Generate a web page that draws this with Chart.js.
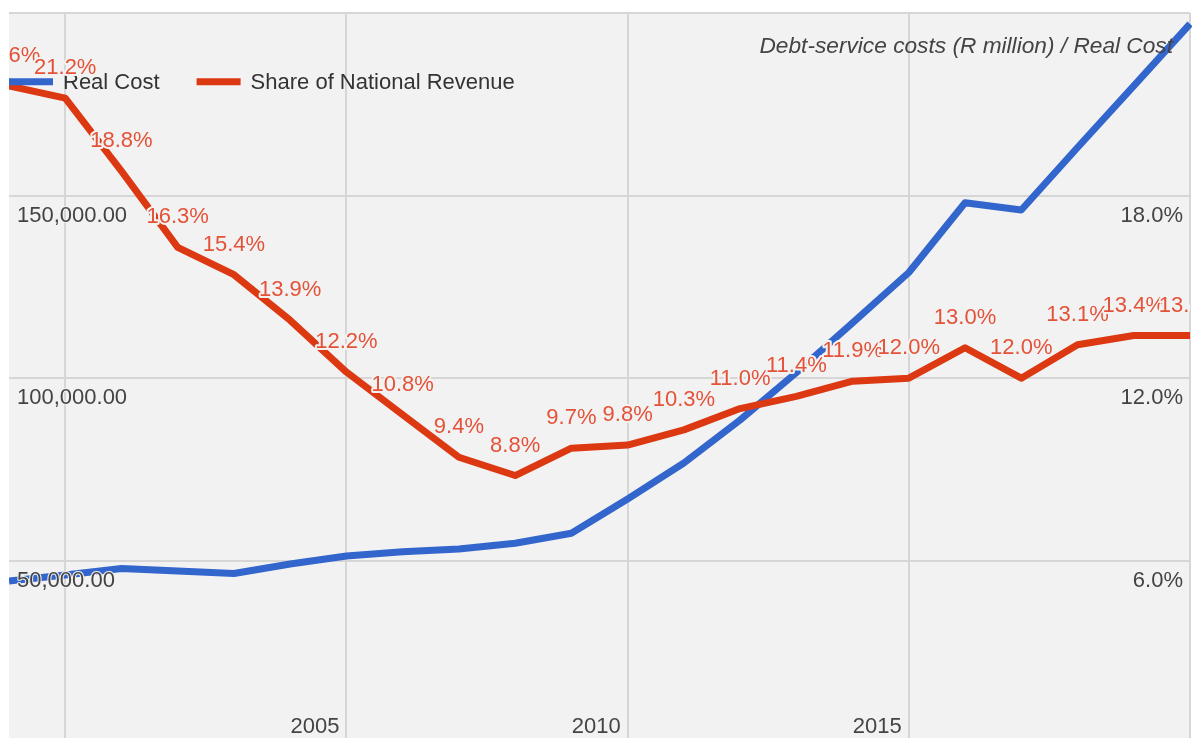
<!DOCTYPE html>
<html><head><meta charset="utf-8">
<script src="https://cdn.jsdelivr.net/npm/chart.js@4.4.1/dist/chart.umd.min.js"></script>
<style>
html,body{margin:0;padding:0;background:#fff;overflow:hidden;width:1192px;height:738px;}
#wrap{position:relative;width:1192px;height:738px;overflow:hidden;}
canvas{display:block;}
</style></head><body>
<div id="wrap"><canvas id="c" width="1192" height="744"></canvas></div>
<script>
// ---- data ----
const years = [1999,2000,2001,2002,2003,2004,2005,2006,2007,2008,2009,2010,2011,2012,2013,2014,2015,2016,2017,2018,2019,2020];
const realCost = [44449,46092,47872,47188,46503,49105,51296,52474,53213,54774,57513,66907,76766,88542,101496,115108,128938,148054,146055,163172,180015,196995];
const shareOfRevenue = [21.6,21.2,18.8,16.3,15.4,13.9,12.2,10.8,9.4,8.8,9.7,9.8,10.3,11.0,11.4,11.9,12.0,13.0,12.0,13.1,13.4,13.4];
const seriesNames = ['Real Cost','Share of National Revenue'];
const titleText = 'Debt-service costs (R million) / Real Cost';
const xGridYears = [2000,2005,2010,2015,2020];
const xTickLabels = [2005,2010,2015];
const costGridValues = [50000,100000,150000,200000];
const costTickLabels = [50000,100000,150000];
const shareTickLabels = [6,12,18];
const costRange = [0,200000];
const shareRange = [0,24];

const FONT = '"Liberation Sans", Arial, sans-serif';
const BLUE = '#3366cc', RED = '#dc3912', LABEL_RED = 'rgb(228,82,56)', BG = '#f2f2f2';

const fmtCost = v => v.toLocaleString('en-US',{minimumFractionDigits:2,maximumFractionDigits:2});
const fmtPct = v => v.toFixed(1) + '%';

const bgPlugin = {
  id:'bg',
  beforeDraw(chart){
    const {ctx, chartArea:a} = chart;
    ctx.save();
    ctx.fillStyle = BG;
    ctx.fillRect(a.left, a.top, a.right-a.left, a.bottom-a.top);
    ctx.restore();
  }
};

const overlay = {
  id:'overlay',
  afterDatasetsDraw(chart){
    const {ctx, chartArea:a, scales} = chart;
    ctx.save();
    ctx.beginPath(); ctx.rect(a.left, a.top, a.right-a.left, a.bottom-a.top); ctx.clip();
    ctx.lineJoin = 'round';
    const txt = (t,x,y,fill,halo) => {
      if (halo){ ctx.strokeStyle = BG; ctx.lineWidth = halo; ctx.strokeText(t,x,y); }
      ctx.fillStyle = fill; ctx.fillText(t,x,y);
    };
    ctx.textBaseline = 'alphabetic';
    ctx.font = '22px ' + FONT;
    // legend
    const ly = 81.7;
    let lx = a.left;
    chart.data.datasets.forEach((ds,i)=>{
      ctx.strokeStyle = ds.borderColor; ctx.lineWidth = 7; ctx.lineCap='butt';
      ctx.beginPath(); ctx.moveTo(lx, ly); ctx.lineTo(lx+44, ly); ctx.stroke();
      ctx.textAlign = 'left';
      txt(ds.label, lx+54, ly+7.5, '#333', 0);
      lx += 54 + ctx.measureText(ds.label).width + 37;
    });
    // axis labels
    ctx.textAlign = 'left';
    costTickLabels.forEach(v=>{
      const y = scales.y.getPixelForValue(v);
      txt(fmtCost(v), a.left+8, y+26, '#444', 2);
    });
    ctx.textAlign = 'right';
    shareTickLabels.forEach(v=>{
      const y = scales.y2.getPixelForValue(v);
      txt(fmtPct(v), a.right-7, y+26, '#444', 2);
    });
    xTickLabels.forEach(v=>{
      const x = scales.x.getPixelForValue(v);
      txt(String(v), x-7, a.bottom-10, '#444', 2);
    });
    // title
    ctx.font = 'italic 22.7px ' + FONT;
    ctx.textAlign = 'right';
    txt(titleText, a.right-17, a.top+40, '#444', 0);
    // annotations
    ctx.font = '22px ' + FONT;
    ctx.textAlign = 'center';
    const meta = chart.getDatasetMeta(1);
    meta.data.forEach((pt,i)=>{
      txt(fmtPct(shareOfRevenue[i]), pt.x, pt.y-24, LABEL_RED, 4);
    });
    ctx.restore();
  }
};

const gridOpts = {color:'#d6d6d6', lineWidth:2, drawTicks:false};

new Chart(document.getElementById('c'), {
  type:'line',
  data:{
    datasets:[
      {label:seriesNames[0], data:years.map((yr,i)=>({x:yr,y:realCost[i]})), yAxisID:'y',
       borderColor:BLUE, backgroundColor:BLUE, borderWidth:7, pointRadius:0, tension:0, order:1,
       borderJoinStyle:'round', clip:{left:0,top:3,right:2,bottom:3}},
      {label:seriesNames[1], data:years.map((yr,i)=>({x:yr,y:shareOfRevenue[i]})), yAxisID:'y2',
       borderColor:RED, backgroundColor:RED, borderWidth:7, pointRadius:0, tension:0, order:0,
       borderJoinStyle:'round', clip:{left:0,top:3,right:2,bottom:3}}
    ]
  },
  options:{
    responsive:false, animation:false, devicePixelRatio:1,
    layout:{padding:{left:9,right:2,top:13,bottom:0.7}},
    plugins:{legend:{display:false}, tooltip:{enabled:false}, title:{display:false}},
    scales:{
      x:{type:'linear', min:years[0], max:years[years.length-1],
         afterBuildTicks:s=>{s.ticks = xGridYears.map(v=>({value:v}));},
         ticks:{display:false}, grid:gridOpts, border:{display:false}},
      y:{type:'linear', position:'left', min:costRange[0], max:costRange[1],
         afterBuildTicks:s=>{s.ticks = costGridValues.map(v=>({value:v}));},
         ticks:{display:false}, grid:gridOpts, border:{display:false}},
      y2:{type:'linear', position:'right', min:shareRange[0], max:shareRange[1],
         ticks:{display:false}, grid:{display:false, drawTicks:false}, border:{display:false}}
    }
  },
  plugins:[bgPlugin, overlay]
});
</script>
</body></html>
